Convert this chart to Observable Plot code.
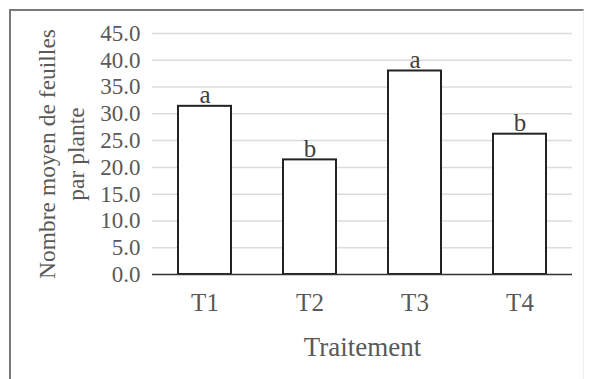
<!DOCTYPE html>
<html>
<head>
<meta charset="utf-8">
<script src="https://cdn.jsdelivr.net/npm/d3@7"></script>
<script src="https://cdn.jsdelivr.net/npm/@observablehq/plot@0.6"></script>
<style>
  html, body { margin: 0; padding: 0; background: #fff; }
  #wrap { position: relative; width: 591px; height: 379px; overflow: hidden; }
  #frame { position: absolute; left: 9px; top: 9px; width: 572px; height: 380px;
           border-left: 2px solid #7a7a7a; border-top: 2px solid #7a7a7a; border-right: 1px solid #eeeeee; }
  #chart { position: absolute; left: 0; top: 0; }
</style>
</head>
<body>
<div id="wrap"><div id="frame"></div><div id="chart"></div></div>
<script>
const treatments = ["T1", "T2", "T3", "T4"];
const means = [31.4, 21.4, 38.0, 26.2];
const letters = ["a", "b", "a", "b"];
const yTicks = [0, 5, 10, 15, 20, 25, 30, 35, 40, 45];
const xTitle = "Traitement";
const yTitle = "Nombre moyen de feuilles\npar plante";

const data = treatments.map((t, i) => ({t, v: means[i], l: letters[i]}));

const chart = Plot.plot({
  width: 591,
  height: 379,
  marginTop: 33,
  marginBottom: 105,
  marginLeft: 152,
  marginRight: 19,
  style: {fontFamily: "'Liberation Serif', 'Times New Roman', serif", background: "transparent"},
  x: {domain: treatments, paddingInner: 0.5, paddingOuter: 0.25, label: null},
  y: {domain: [0, 45], label: null},
  marks: [
    Plot.ruleY(yTicks.slice(1), {stroke: "#dcdcdc", strokeWidth: 1.5}),
    Plot.axisY({ticks: yTicks, tickFormat: d => d.toFixed(1), tickSize: 0, tickPadding: 12,
                fontSize: 23, color: "#595959", label: null}),
    Plot.axisX({tickSize: 0, tickPadding: 19, fontSize: 25, color: "#595959", label: null}),
    Plot.barY(data, {x: "t", y: "v", fill: "white", stroke: "#222", strokeWidth: 2}),
    Plot.ruleY([0], {stroke: "#333", strokeWidth: 1.5}),
    Plot.text(data, {x: "t", y: "v", text: "l", dy: -3, lineAnchor: "bottom", fontSize: 25, fill: "#404040"}),
    Plot.text([xTitle], {frameAnchor: "bottom", lineAnchor: "middle", textAnchor: "middle", dy: 73,
                         fontSize: 27, fill: "#595959"}),
    Plot.text([yTitle], {frameAnchor: "left", lineAnchor: "middle", textAnchor: "middle", dx: -92, rotate: -90,
                         fontSize: 23.5, lineHeight: 1.2, fill: "#595959"})
  ]
});
document.getElementById("chart").appendChild(chart);
</script>
</body>
</html>
